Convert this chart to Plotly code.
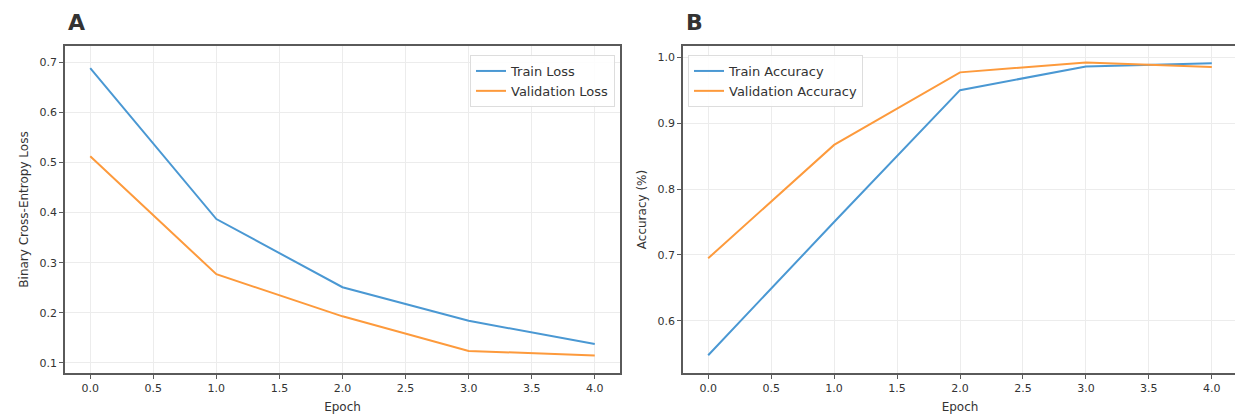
import plotly.graph_objects as go

epochs = [0, 1, 2, 3, 4]
train_loss = [0.688, 0.387, 0.251, 0.184, 0.138]
val_loss = [0.512, 0.277, 0.193, 0.124, 0.115]
train_acc = [0.548, 0.750, 0.950, 0.986, 0.991]
val_acc = [0.695, 0.867, 0.977, 0.992, 0.985]

x_ticks = [0.0, 0.5, 1.0, 1.5, 2.0, 2.5, 3.0, 3.5, 4.0]
loss_ticks = [0.1, 0.2, 0.3, 0.4, 0.5, 0.6, 0.7]
acc_ticks = [0.6, 0.7, 0.8, 0.9, 1.0]

BLUE = "#4a98d3"
ORANGE = "#fd9a3c"
FONT = "DejaVu Sans"

# page body has an 8px margin; figure fills the rest of the window
W, H = 1235, 408


def fx(sx):
    return (sx - 8) / W


def fy(sy):
    return 1 - (sy - 8) / H


fig = go.Figure()
fig.add_trace(go.Scatter(x=epochs, y=train_loss, mode="lines", name="Train Loss",
                         line=dict(color=BLUE, width=2), xaxis="x", yaxis="y", legend="legend"))
fig.add_trace(go.Scatter(x=epochs, y=val_loss, mode="lines", name="Validation Loss",
                         line=dict(color=ORANGE, width=2), xaxis="x", yaxis="y", legend="legend"))
fig.add_trace(go.Scatter(x=epochs, y=train_acc, mode="lines", name="Train Accuracy",
                         line=dict(color=BLUE, width=2), xaxis="x2", yaxis="y2", legend="legend2"))
fig.add_trace(go.Scatter(x=epochs, y=val_acc, mode="lines", name="Validation Accuracy",
                         line=dict(color=ORANGE, width=2), xaxis="x2", yaxis="y2", legend="legend2"))

axis_common = dict(showline=True, mirror=True, linecolor="#5a5a5a", linewidth=1.5,
                   ticks="outside", ticklen=4, tickcolor="#5a5a5a",
                   showgrid=True, gridcolor="#ececec", gridwidth=1, zeroline=False,
                   tickfont=dict(family=FONT, size=11, color="#333"))

xd1 = [fx(65), fx(620)]
xd2 = [fx(683), fx(1237)]
yd = [fy(373), fy(46)]

fig.update_layout(
    width=W, height=H,
    margin=dict(l=0, r=0, t=0, b=0),
    paper_bgcolor="white", plot_bgcolor="white",
    font=dict(family=FONT, color="#333"),
    xaxis=dict(domain=xd1, range=[-0.2, 4.2], tickvals=x_ticks,
               ticktext=[f"{v:.1f}" for v in x_ticks], anchor="y",
               title=dict(text="Epoch", font=dict(size=12), standoff=9), **axis_common),
    yaxis=dict(domain=yd, range=[0.080, 0.732], tickvals=loss_ticks,
               ticktext=[f"{v:.1f}" for v in loss_ticks], anchor="x",
               title=dict(text="Binary Cross-Entropy Loss", font=dict(size=12), standoff=8), **axis_common),
    xaxis2=dict(domain=xd2, range=[-0.2, 4.2], tickvals=x_ticks,
                ticktext=[f"{v:.1f}" for v in x_ticks], anchor="y2",
                title=dict(text="Epoch", font=dict(size=12), standoff=9), **axis_common),
    yaxis2=dict(domain=yd, range=[0.521, 1.017], tickvals=acc_ticks,
                ticktext=[f"{v:.1f}" for v in acc_ticks], anchor="x2",
                title=dict(text="Accuracy (%)", font=dict(size=12), standoff=8), **axis_common),
    legend=dict(x=fx(615), y=fy(55), xanchor="right", yanchor="top",
                bgcolor="rgba(255,255,255,0.9)", bordercolor="#dddddd", borderwidth=1,
                font=dict(family=FONT, size=13, color="#333"), tracegroupgap=0),
    legend2=dict(x=fx(688), y=fy(55), xanchor="left", yanchor="top",
                 bgcolor="rgba(255,255,255,0.9)", bordercolor="#dddddd", borderwidth=1,
                 font=dict(family=FONT, size=13, color="#333"), tracegroupgap=0),
    annotations=[
        dict(text="<b>A</b>", x=fx(66), y=fy(23), xref="paper", yref="paper",
             xanchor="left", yanchor="middle", showarrow=False,
             font=dict(family=FONT, size=22, color="#333")),
        dict(text="<b>B</b>", x=fx(684), y=fy(23), xref="paper", yref="paper",
             xanchor="left", yanchor="middle", showarrow=False,
             font=dict(family=FONT, size=22, color="#333")),
    ],
)

fig.write_html("out.html")
